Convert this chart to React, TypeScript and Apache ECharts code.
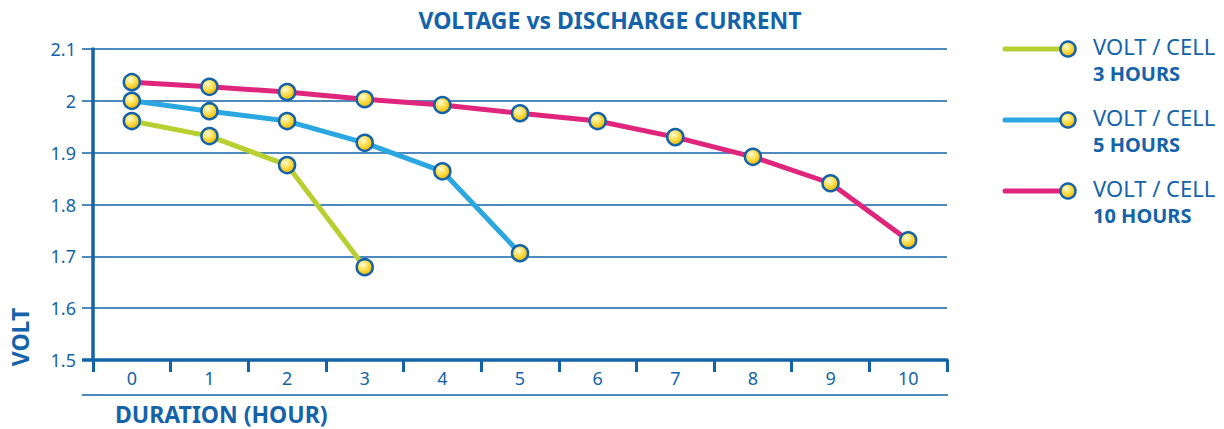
import React, { useEffect, useRef } from "react";
import * as echarts from "echarts";

const hours = ["0", "1", "2", "3", "4", "5", "6", "7", "8", "9", "10"];
const volt3h = [1.961, 1.932, 1.876, 1.679];
const volt5h = [2.0, 1.98, 1.961, 1.919, 1.864, 1.706];
const volt10h = [2.036, 2.027, 2.017, 2.003, 1.992, 1.976, 1.961, 1.93, 1.892, 1.841, 1.731];
const seriesNames = ["3 HOURS", "5 HOURS", "10 HOURS"];
const seriesColors = ["#b8cf32", "#2aa7e0", "#e0267c"];
const titleText = "VOLTAGE vs DISCHARGE CURRENT";

const BLUE = "#1463aa";
const FONT = "'Noto Sans', 'Open Sans', sans-serif";

const markerFill = () =>
  new echarts.graphic.RadialGradient(0.4, 0.35, 0.65, [
    { offset: 0, color: "#fffbe0" },
    { offset: 0.45, color: "#ffe35a" },
    { offset: 1, color: "#f2b600" },
  ]);

export default function App() {
  const ref = useRef<HTMLDivElement>(null);
  useEffect(() => {
    document.body.style.margin = "0";
    document.body.style.overflow = "hidden";
    const chart = echarts.init(ref.current!, undefined, { renderer: "svg" });
    const datasets = [volt3h, volt5h, volt10h];
    const legendY = [49, 120, 191];
    const legendGraphics: any[] = [];
    seriesNames.forEach((n, i) => {
      const y = legendY[i];
      legendGraphics.push(
        { type: "line", shape: { x1: 1005, y1: y, x2: 1062, y2: y }, style: { stroke: seriesColors[i], lineWidth: 5, lineCap: "round" } },
        { type: "circle", shape: { cx: 1068, cy: y, r: 7.5 }, style: { fill: markerFill(), stroke: BLUE, lineWidth: 2.5 } },
        { type: "text", x: 1093, y: y - 3, style: { text: "VOLT / CELL", fill: BLUE, font: `400 22px ${FONT}`, verticalAlign: "middle", textVerticalAlign: "middle" } },
        { type: "text", x: 1093, y: y + 24, style: { text: n, fill: BLUE, font: `700 20px ${FONT}`, verticalAlign: "middle", textVerticalAlign: "middle" } }
      );
    });
    chart.setOption({
      animation: false,
      title: {
        text: titleText,
        left: 605,
        textAlign: "center",
        top: 3,
        textStyle: { color: BLUE, fontFamily: FONT, fontWeight: 700, fontSize: 23 },
      },
      grid: { left: 93, right: 277, top: 49, bottom: 69, containLabel: false },
      xAxis: {
        type: "category",
        data: hours,
        boundaryGap: true,
        axisLine: { show: true, lineStyle: { color: BLUE, width: 3.5 } },
        axisTick: { show: true, inside: false, length: 12, lineStyle: { color: BLUE, width: 3 } },
        axisLabel: { color: BLUE, fontSize: 18, fontFamily: FONT, margin: 9 },
        splitLine: { show: false },
      },
      yAxis: {
        type: "value",
        min: 1.5,
        max: 2.1,
        interval: 0.1,
        axisLine: { show: true, lineStyle: { color: BLUE, width: 3.5 } },
        axisTick: { show: true, length: 11, lineStyle: { color: BLUE, width: 1.5 } },
        axisLabel: { color: BLUE, fontSize: 18, fontFamily: FONT, margin: 17 },
        splitLine: { show: true, lineStyle: { color: BLUE, width: 1.5 } },
      },
      graphic: [
        { type: "line", shape: { x1: 82, y1: 360, x2: 94, y2: 360 }, style: { stroke: BLUE, lineWidth: 3.5 } },
        { type: "line", shape: { x1: 82, y1: 395, x2: 948, y2: 395 }, style: { stroke: BLUE, lineWidth: 1.5 } },
        { type: "text", x: 115, y: 414, style: { text: "DURATION (HOUR)", fill: BLUE, font: `700 23px ${FONT}`, verticalAlign: "middle", textVerticalAlign: "middle" } },
        { type: "text", x: 20, y: 337, rotation: Math.PI / 2, style: { text: "VOLT", fill: BLUE, font: `700 23px ${FONT}`, align: "center", textAlign: "center", verticalAlign: "middle", textVerticalAlign: "middle" } },
        ...legendGraphics,
      ],
      series: datasets.map((d, i) => ({
        name: seriesNames[i],
        type: "line",
        data: d,
        z: 3 + i,
        symbol: "circle",
        symbolSize: 16,
        lineStyle: { color: seriesColors[i], width: 5 },
        itemStyle: { color: markerFill(), borderColor: BLUE, borderWidth: 2.5 },
      })),
    });
    return () => chart.dispose();
  }, []);
  return <div ref={ref} style={{ position: "absolute", left: 0, top: 0, width: 1224, height: 429 }} />;
}
